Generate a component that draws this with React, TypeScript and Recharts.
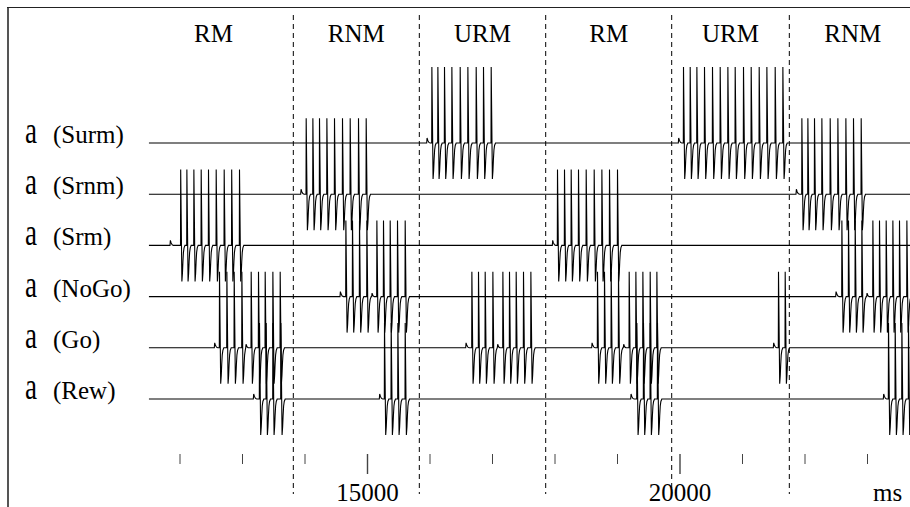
import React from "react"
import {
  LineChart,
  Line,
  XAxis,
  YAxis,
  ReferenceLine,
  ReferenceArea,
} from "recharts"

// Six activity traces (Surm .. Rew) stacked with a fixed vertical gap.
// Times are in ms.

const ROW_NAMES = ["Surm", "Srnm", "Srm", "NoGo", "Go", "Rew"]
const ROW_GAP = 51.2

const SURM_BUMPS = [15947, 19973]
const SURM_SPIKES = [
  16027, 16123, 16229, 16347, 16480, 16603, 16736, 16853, 16976,
  20053, 20160, 20267, 20389, 20517, 20640, 20763, 20880, 21013, 21136, 21264, 21387, 21520, 21643,
]

const SRNM_BUMPS = [13931, 21856]
const SRNM_SPIKES = [
  14016, 14123, 14229, 14347, 14469, 14597, 14720, 14853, 14976,
  21947, 22043, 22149, 22267, 22400, 22523, 22651, 22773, 22896,
]

const SRM_BUMPS = [11840, 17957]
const SRM_SPIKES = [
  12008, 12107, 12219, 12336, 12453, 12576, 12704, 12824, 12949,
  18037, 18149, 18256, 18373, 18496, 18624, 18747, 18869, 18997,
]

const NOGO_BUMPS = [14560, 22491]
const NOGO_KINKS = [15067, 22987]
const NOGO_SPIKES = [
  14651, 14757, 14869, 14987, 15147, 15253, 15360, 15477, 15600,
  22587, 22693, 22800, 22907, 23083, 23189, 23296, 23403, 23509, 23627,
]

const GO_BUMPS = [12549, 16571, 18587, 21493]
const GO_KINKS = [13051, 17077, 19093]
const GO_SPIKES = [
  12629, 12747, 12864, 12987, 13136, 13253, 13360, 13483, 13600,
  16667, 16773, 16880, 17003, 17163, 17269, 17376, 17493, 17611,
  18677, 18789, 18896, 19013, 19184, 19291, 19403, 19520, 19627,
  21573, 21680,
]

const REW_BUMPS = [13173, 15189, 19211, 23253]
const REW_SPIKES = [
  13269, 13376, 13483, 13611,
  15269, 15376, 15483, 15600,
  19307, 19413, 19520, 19637,
  23333, 23440, 23547, 23653,
]

const BLOCK_LABELS = ["RM", "RNM", "URM", "RM", "URM", "RNM"]
const BLOCK_EDGES = [11260, 13813, 15829, 17851, 19867, 21749, 23780]

const X_TICKS = [12000, 13000, 14000, 15000, 16000, 17000, 18000, 19000, 20000, 21000, 22000, 23000]
const MAJOR_TICKS = [15000, 20000]

// waveform templates: [ms after event, height]
const SPIKE_SHAPE = [[0, 0], [3, 76], [22, -36], [31, -28], [39, -16], [47, -7], [57, -2.5], [72, 0]]
const BUMP_SHAPE = [[0, 0], [6, 5], [18, 2.5], [35, 0.6], [55, 0]]
const KINK_SHAPE = [[0, 0], [6, 3.5], [20, 1], [40, 0]]

const T_MIN = 11500
const T_MAX = 23680
const FONT = "Liberation Serif"
const AXIS_Y = 454

const ROWS = [
  { bumps: SURM_BUMPS, spikes: SURM_SPIKES, kinks: [] as number[] },
  { bumps: SRNM_BUMPS, spikes: SRNM_SPIKES, kinks: [] as number[] },
  { bumps: SRM_BUMPS, spikes: SRM_SPIKES, kinks: [] as number[] },
  { bumps: NOGO_BUMPS, spikes: NOGO_SPIKES, kinks: NOGO_KINKS },
  { bumps: GO_BUMPS, spikes: GO_SPIKES, kinks: GO_KINKS },
  { bumps: REW_BUMPS, spikes: REW_SPIKES, kinks: [] as number[] },
]

function buildTrace(row: typeof ROWS[number], index: number) {
  const off = -index * ROW_GAP
  const events = [
    ...row.bumps.map((t) => ({ t, shape: BUMP_SHAPE })),
    ...row.kinks.map((t) => ({ t, shape: KINK_SHAPE })),
    ...row.spikes.map((t) => ({ t, shape: SPIKE_SHAPE })),
  ].sort((a, b) => a.t - b.t)
  const pts: { t: number; v: number }[] = [{ t: T_MIN, v: off }]
  for (const ev of events) {
    while (pts.length > 1 && pts[pts.length - 1].t >= ev.t) pts.pop()
    for (const [dt, dv] of ev.shape) pts.push({ t: ev.t + dt, v: off + dv })
  }
  if (pts[pts.length - 1].t < T_MAX) pts.push({ t: T_MAX, v: off })
  return pts
}

const ROW_OFFSETS = ROW_NAMES.map((_, i) => -i * ROW_GAP)

function RowLabel(props: any) {
  const { y, payload } = props
  const idx = ROW_OFFSETS.findIndex((o) => Math.abs(o - payload.value) < 0.01)
  return (
    <g>
      <text x={25} y={y} fontFamily={FONT} fontSize={37} fill="#000" textLength={12} lengthAdjust="spacingAndGlyphs">
        a
      </text>
      <text x={53} y={y} fontFamily={FONT} fontSize={25} fill="#000">
        ({ROW_NAMES[idx]})
      </text>
    </g>
  )
}

function TimeTick(props: any) {
  const { x, payload } = props
  const major = MAJOR_TICKS.includes(payload.value)
  return (
    <g>
      <line x1={x} x2={x} y1={AXIS_Y} y2={major ? AXIS_Y + 20 : AXIS_Y + 10} stroke="#444" strokeWidth={major ? 1.4 : 1} />
      {major && (
        <text x={x} y={501} textAnchor="middle" fontFamily={FONT} fontSize={25} fill="#000">
          {payload.value}
        </text>
      )}
    </g>
  )
}

function BlockLabel(props: any) {
  const { viewBox, value } = props
  return (
    <text x={viewBox.x + viewBox.width / 2} y={42} textAnchor="middle" fontFamily={FONT} fontSize={25} fill="#000">
      {value}
    </text>
  )
}

export default function App() {
  return (
    <div style={{ position: "relative", width: 910, height: 507, fontFamily: FONT }}>
      <style>{"body{margin:0;overflow:hidden} svg text{font-family:'Liberation Serif','DejaVu Serif',serif !important}"}</style>
      <LineChart width={910} height={507} margin={{ top: 0, right: 0, bottom: 0, left: 0 }}>
        <XAxis
          type="number"
          dataKey="t"
          domain={[T_MIN, T_MAX]}
          allowDataOverflow
          ticks={X_TICKS}
          interval={0}
          height={507 - AXIS_Y}
          axisLine={false}
          tickLine={false}
          tick={<TimeTick />}
          label={{
            content: () => (
              <text x={873} y={501} fontFamily={FONT} fontSize={25} fill="#000">
                ms
              </text>
            ),
          }}
        />
        <YAxis
          type="number"
          domain={[143 - AXIS_Y, 143]}
          allowDataOverflow
          ticks={ROW_OFFSETS}
          interval={0}
          width={148.75}
          axisLine={false}
          tickLine={false}
          tick={<RowLabel />}
        />
        {BLOCK_LABELS.map((lab, i) => (
          <ReferenceArea
            key={"b" + i}
            x1={BLOCK_EDGES[i]}
            x2={BLOCK_EDGES[i + 1]}
            ifOverflow="visible"
            fill="none"
            fillOpacity={0}
            stroke="none"
            label={<BlockLabel value={lab} />}
          />
        ))}
        {BLOCK_EDGES.slice(1, -1).map((t) => (
          <ReferenceLine
            key={"d" + t}
            segment={[{ x: t, y: 128 }, { x: t, y: -351 }]}
            ifOverflow="visible"
            stroke="#000"
            strokeWidth={1}
            strokeDasharray="5 4"
          />
        ))}
        {ROWS.map((row, i) => (
          <Line
            key={ROW_NAMES[i]}
            data={buildTrace(row, i)}
            dataKey="v"
            type="linear"
            stroke="#000"
            strokeWidth={1.1}
            dot={false}
            activeDot={false}
            isAnimationActive={false}
          />
        ))}
      </LineChart>
      <div style={{ position: "absolute", left: 7, top: 7, width: 2, height: 500, background: "#555" }} />
      <div style={{ position: "absolute", left: 7, top: 7, width: 903, height: 1, background: "#222" }} />
    </div>
  )
}
